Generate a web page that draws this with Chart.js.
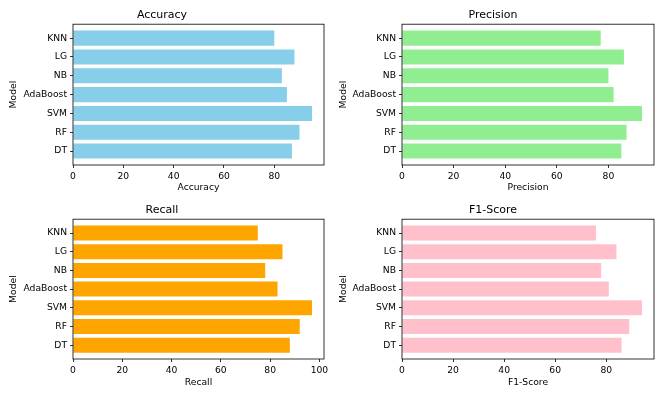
<!DOCTYPE html>
<html lang="en">
<head>
  <meta charset="UTF-8" />
  <title>Model Metrics</title>
  <script src="https://cdn.jsdelivr.net/npm/chart.js"></script>
  <style>
    body {
      margin: 0;
      background: #ffffff;
      width: 664px;
      height: 399px;
      position: relative;
      overflow: hidden;
    }
    .panel {
      position: absolute;
    }
  </style>
</head>
<body>
  <div class="panel" style="left:0;top:0;width:332px;height:200px"><canvas id="accChart"></canvas></div>
  <div class="panel" style="left:332px;top:0;width:332px;height:200px"><canvas id="precChart"></canvas></div>
  <div class="panel" style="left:0;top:195px;width:332px;height:204px"><canvas id="recChart"></canvas></div>
  <div class="panel" style="left:332px;top:195px;width:332px;height:204px"><canvas id="f1Chart"></canvas></div>

  <script>
    // models, bottom to top (matplotlib barh order)
    const models = ['DT', 'RF', 'SVM', 'AdaBoost', 'NB', 'LG', 'KNN'];

    const accuracy  = [87, 90, 95, 85, 83, 88, 80];
    const precision = [85, 87, 93, 82, 80, 86, 77];
    const recall    = [88, 92, 97, 83, 78, 85, 75];
    const f1Score   = [86, 89, 94, 81, 78, 84, 76];

    const xTicks = [0, 20, 40, 60, 80, 100];

    const FONT = 'DejaVu Sans';
    const TICK_SIZE = 9.2;
    const TITLE_SIZE = 11;

    // draws the full axes frame (all four spines)
    const frame = {
      id: 'frame',
      afterDraw(chart) {
        const { ctx, chartArea: a } = chart;
        ctx.save();
        ctx.strokeStyle = '#000';
        ctx.lineWidth = 0.8;
        ctx.strokeRect(a.left, a.top, a.right - a.left, a.bottom - a.top);
        ctx.restore();
      }
    };

    function makeChart(id, name, values, color, p) {
      const xMax = Math.max(...values) * 1.05;
      const n = models.length;
      const margin = (n - 1 + 0.8) * 0.05;

      new Chart(document.getElementById(id), {
        type: 'bar',
        data: {
          datasets: [{
            data: values.map((v, i) => ({ x: v, y: i })),
            backgroundColor: color,
            borderWidth: 0,
            barPercentage: 0.8,
            categoryPercentage: 1.0
          }]
        },
        options: {
          indexAxis: 'y',
          responsive: false,
          animation: false,
          layout: { padding: { left: 0, right: p.padRight, top: 0, bottom: 0 } },
          plugins: {
            legend: { display: false },
            tooltip: { enabled: false },
            title: {
              display: true,
              text: name,
              color: '#000',
              font: { family: FONT, size: TITLE_SIZE, weight: 'normal' },
              padding: { top: 9, bottom: 2 }
            }
          },
          scales: {
            x: {
              type: 'linear',
              min: 0,
              max: xMax,
              offset: false,
              afterFit(scale) { scale.height = p.xHeight; },
              afterBuildTicks(scale) {
                scale.ticks = xTicks.filter(t => t <= xMax).map(t => ({ value: t }));
              },
              grid: { display: true, offset: false, drawOnChartArea: false, drawTicks: true, tickLength: 3, tickColor: '#000', lineWidth: 0.8 },
              border: { display: false },
              ticks: { color: '#000', padding: 3, font: { family: FONT, size: TICK_SIZE } },
              title: {
                display: true,
                text: name,
                color: '#000',
                font: { family: FONT, size: TICK_SIZE },
                padding: { top: 0, bottom: p.xTitlePad }
              }
            },
            y: {
              type: 'linear',
              min: -0.4 - margin,
              max: n - 1 + 0.4 + margin,
              offset: false,
              afterFit(scale) { scale.width = p.yWidth; },
              afterBuildTicks(scale) {
                scale.ticks = models.map((m, i) => ({ value: i }));
              },
              grid: { display: true, offset: false, drawOnChartArea: false, drawTicks: true, tickLength: 3, tickColor: '#000', lineWidth: 0.8 },
              border: { display: false },
              ticks: {
                color: '#000',
                padding: 3,
                font: { family: FONT, size: TICK_SIZE },
                callback: (v) => models[v]
              },
              title: {
                display: true,
                text: 'Model',
                color: '#000',
                font: { family: FONT, size: TICK_SIZE },
                padding: { top: p.yTitlePad, bottom: 0 }
              }
            }
          }
        },
        plugins: [frame]
      });
    }

    function sizeCanvas(id, w, h) {
      const c = document.getElementById(id);
      c.width = w; c.height = h;
      c.style.width = w + 'px'; c.style.height = h + 'px';
    }

    sizeCanvas('accChart', 332, 200);
    sizeCanvas('precChart', 332, 200);
    sizeCanvas('recChart', 332, 204);
    sizeCanvas('f1Chart', 332, 204);

    makeChart('accChart', 'Accuracy', accuracy, '#87CEEB',
      { yWidth: 73, padRight: 8, xHeight: 35, xTitlePad: 6.5, yTitlePad: 8 });
    makeChart('precChart', 'Precision', precision, '#90EE90',
      { yWidth: 70, padRight: 10, xHeight: 35, xTitlePad: 6.5, yTitlePad: 6 });
    makeChart('recChart', 'Recall', recall, '#FFA500',
      { yWidth: 73, padRight: 8, xHeight: 40, xTitlePad: 10.5, yTitlePad: 8 });
    makeChart('f1Chart', 'F1-Score', f1Score, '#FFC0CB',
      { yWidth: 70, padRight: 10, xHeight: 40, xTitlePad: 10.5, yTitlePad: 6 });
  </script>
</body>
</html>
